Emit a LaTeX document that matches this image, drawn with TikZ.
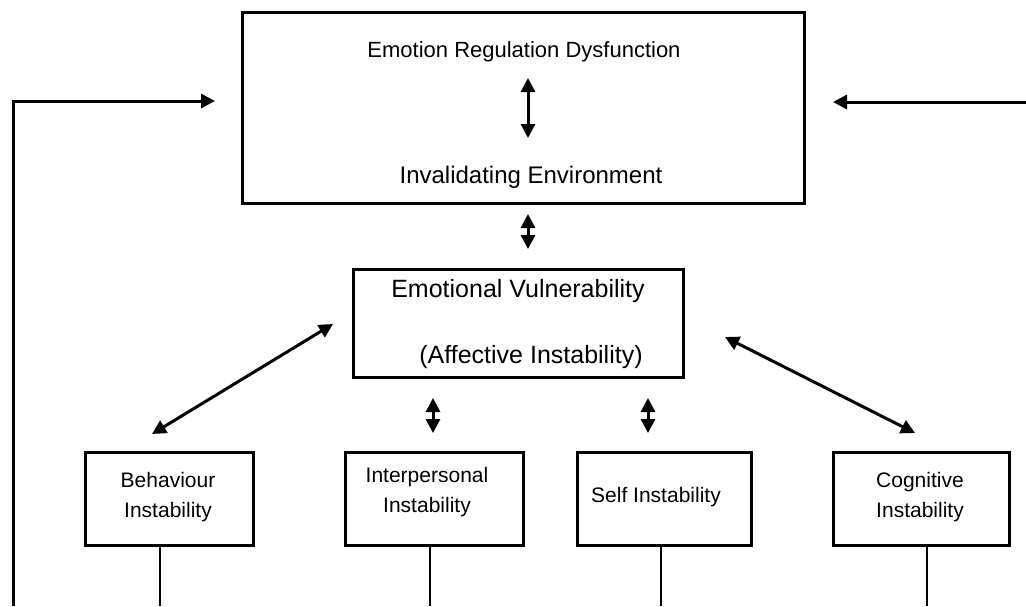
\documentclass[tikz,border=0pt]{standalone}
\usepackage{fontspec}
\setmainfont{Liberation Sans}
\usetikzlibrary{arrows.meta}
\begin{document}
\begin{tikzpicture}[x=1pt,y=-1pt,
  box/.style={draw,line width=3pt,inner sep=0pt},
  conn/.style={line width=3pt,{Triangle[length=14pt,width=14pt]}-{Triangle[length=14pt,width=14pt]}},
  oneway/.style={line width=3pt,-{Triangle[length=14pt,width=14pt]}},
  stub/.style={line width=2.5pt},
  toptxt/.style={font=\fontsize{22}{26}\selectfont,inner sep=0pt},
  envtxt/.style={font=\fontsize{24}{28}\selectfont,inner sep=0pt},
  bigtxt/.style={font=\fontsize{25}{30}\selectfont,inner sep=0pt},
  smalltxt/.style={font=\fontsize{21}{30}\selectfont,align=center,inner sep=0pt}]
\useasboundingbox (0,0) rectangle (1026,606);
% top box
\node[box,minimum width=562pt,minimum height=191pt] (topbox) at (523,107.5) {};
\node[toptxt] (erd) at (524,52) {Emotion Regulation Dysfunction};
\node[envtxt] (ie) at (531,177) {Invalidating Environment};
\coordinate (erdA) at (528,78);
\coordinate (erdB) at (528,138);
\draw[conn] (erdA) -- (erdB);
% middle box
\node[box,minimum width=330pt,minimum height=108pt] (ev) at (518,323) {};
\node[bigtxt] (evt) at (518,291) {Emotional Vulnerability};
\node[bigtxt] (ait) at (531,357) {(Affective Instability)};
\coordinate (m1) at (528,214);
\coordinate (m2) at (528,249);
\draw[conn] (m1) -- (m2);
% small boxes
\node[box,minimum width=168pt,minimum height=93pt] (bi) at (169,498.5) {};
\node[smalltxt] (bit) at (168,497) {Behaviour\\Instability};
\node[box,minimum width=178pt,minimum height=93pt] (ii) at (434,498.5) {};
\node[smalltxt] (iit) at (427,492) {Interpersonal\\Instability};
\node[box,minimum width=174pt,minimum height=93pt] (si) at (664,498.5) {};
\node[smalltxt] (sit) at (656,497) {Self Instability};
\node[box,minimum width=176pt,minimum height=93pt] (ci) at (921,498.5) {};
\node[smalltxt] (cit) at (920,497) {Cognitive\\Instability};
% arrows between middle and small boxes
\coordinate (d1a) at (333,324); \coordinate (d1b) at (152,434);
\draw[conn] (d1a) -- (d1b);
\coordinate (d4a) at (725,337); \coordinate (d4b) at (915,433);
\draw[conn] (d4a) -- (d4b);
\coordinate (d2a) at (433,398); \coordinate (d2b) at (433,433);
\draw[conn] (d2a) -- (d2b);
\coordinate (d3a) at (648,398); \coordinate (d3b) at (648,433);
\draw[conn] (d3a) -- (d3b);
% stubs down
\coordinate (b1) at (160,606); \draw[stub] (bi.south -| b1) -- (b1);
\coordinate (b2) at (430,606); \draw[stub] (ii.south -| b2) -- (b2);
\coordinate (b3) at (661,606); \draw[stub] (si.south -| b3) -- (b3);
\coordinate (b4) at (927,606); \draw[stub] (ci.south -| b4) -- (b4);
% feedback lines
\coordinate (fl0) at (13,606); \coordinate (fl1) at (13,101); \coordinate (fl2) at (215,101);
\draw[oneway] (fl0) -- (fl1) -- (fl2);
\coordinate (fr0) at (1026,102); \coordinate (fr1) at (833,102);
\draw[oneway] (fr0) -- (fr1);
\end{tikzpicture}
\end{document}
